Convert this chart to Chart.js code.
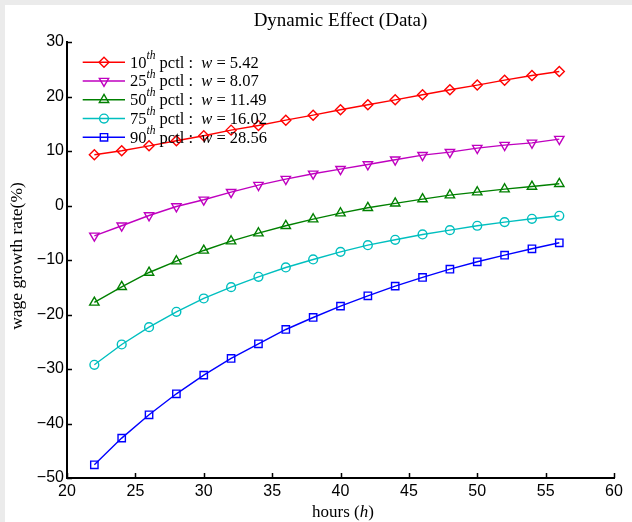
<!DOCTYPE html>
<html>
<head>
<meta charset="utf-8">
<script src="https://cdn.jsdelivr.net/npm/chart.js@4/dist/chart.umd.min.js"></script>
<style>
  html, body { margin: 0; padding: 0; background: #ebebeb; }
  #wrap { position: absolute; left: 5px; top: 5px; width: 627px; height: 517px; background: #fff; }
  canvas { display: block; }
</style>
</head>
<body>
<div id="wrap"><canvas id="growthChart" width="627" height="517"></canvas></div>
<script>
// hours worked, one point every two hours
const hours = [22, 24, 26, 28, 30, 32, 34, 36, 38, 40, 42, 44, 46, 48, 50, 52, 54, 56];

// wage growth rate (%) by wage percentile
const pctl10 = [9.30, 10.04, 10.95, 11.87, 12.79, 13.83, 14.68, 15.66, 16.58, 17.56, 18.48, 19.39, 20.31, 21.23, 22.09, 23.00, 23.86, 24.59];
const pctl25 = [-5.56, -3.72, -1.83, -0.18, 1.05, 2.45, 3.74, 4.84, 5.82, 6.67, 7.53, 8.39, 9.24, 9.79, 10.53, 11.08, 11.50, 12.18];
const pctl50 = [-17.79, -14.92, -12.29, -10.21, -8.25, -6.54, -5.07, -3.72, -2.50, -1.40, -0.42, 0.40, 1.17, 1.90, 2.45, 3.00, 3.49, 3.98];
const pctl75 = [-29.23, -25.50, -22.32, -19.50, -17.06, -14.98, -13.08, -11.37, -9.90, -8.50, -7.28, -6.29, -5.31, -4.52, -3.72, -3.05, -2.44, -1.89];
const pctl90 = [-47.58, -42.68, -38.40, -34.55, -31.12, -28.07, -25.38, -22.75, -20.55, -18.46, -16.57, -14.79, -13.20, -11.68, -10.33, -9.11, -7.94, -6.84];

const pctlNames = ['10', '25', '50', '75', '90'];
const wageLevels = ['5.42', '8.07', '11.49', '16.02', '28.56'];

const xTicks = [20, 25, 30, 35, 40, 45, 50, 55, 60];
const yTicks = [-50, -40, -30, -20, -10, 0, 10, 20, 30];

const SERIF = '"Liberation Serif", "DejaVu Serif", serif';
const SANS = '"Liberation Sans", Arial, sans-serif';

function series(vals, color, style, radius, rotation) {
    return {
        data: hours.map((h, i) => ({ x: h, y: vals[i] })),
        borderColor: color,
        borderWidth: 1.4,
        pointStyle: style,
        pointRadius: radius,
        pointRotation: rotation || 0,
        pointBorderColor: color,
        pointBackgroundColor: 'rgba(0,0,0,0)',
        pointBorderWidth: 1.4,
        tension: 0,
        fill: false
    };
}

const datasets = [
    series(pctl10, '#ff0000', 'rectRot', 5),
    series(pctl25, '#bf00bf', 'triangle', 5.4, 180),
    series(pctl50, '#008000', 'triangle', 5.4),
    series(pctl75, '#00bfbf', 'circle', 4.4),
    series(pctl90, '#0000ff', 'rect', 5.2)
];

// text pieces: [string, italic, superscript]
function drawRich(ctx, parts, x, y, size) {
    let cx = x;
    parts.forEach(p => {
        const fs = p[2] ? size * 0.7 : size;
        ctx.font = (p[1] ? 'italic ' : '') + fs + 'px ' + SERIF;
        const dy = p[2] ? -size * 0.45 : 0;
        ctx.fillText(p[0], cx, y + dy);
        cx += ctx.measureText(p[0]).width;
    });
    return cx;
}

function richWidth(ctx, parts, size) {
    let w = 0;
    parts.forEach(p => {
        const fs = p[2] ? size * 0.7 : size;
        ctx.font = (p[1] ? 'italic ' : '') + fs + 'px ' + SERIF;
        w += ctx.measureText(p[0]).width;
    });
    return w;
}

const decorations = {
    id: 'decorations',
    afterDraw(chart) {
        const ctx = chart.ctx;
        const area = chart.chartArea;
        const xs = chart.scales.x, ys = chart.scales.y;
        ctx.save();

        // inward tick marks
        ctx.strokeStyle = '#000';
        ctx.lineWidth = 1.5;
        ctx.beginPath();
        xTicks.forEach(v => {
            const px = Math.round(xs.getPixelForValue(v)) + 0.5;
            ctx.moveTo(px, area.bottom);
            ctx.lineTo(px, area.bottom - 5);
        });
        yTicks.forEach(v => {
            const py = Math.round(ys.getPixelForValue(v)) + 0.5;
            ctx.moveTo(area.left, py);
            ctx.lineTo(area.left + 5, py);
        });
        ctx.stroke();

        ctx.fillStyle = '#000';
        ctx.textBaseline = 'middle';

        // title
        ctx.textAlign = 'center';
        ctx.font = '19px ' + SERIF;
        ctx.fillText('Dynamic Effect (Data)', (area.left + area.right) / 2, 16);

        // x axis label
        ctx.textAlign = 'left';
        const xl = [['hours (', false, false], ['h', true, false], [')', false, false]];
        const xw = richWidth(ctx, xl, 17);
        drawRich(ctx, xl, 338 - xw / 2, 508, 17);

        // y axis label
        ctx.save();
        ctx.translate(12, 251);
        ctx.rotate(-Math.PI / 2);
        ctx.textAlign = 'center';
        ctx.font = '17.5px ' + SERIF;
        ctx.fillText('wage growth rate(%)', 0, 0);
        ctx.restore();

        // legend
        ctx.textAlign = 'left';
        datasets.forEach((ds, i) => {
            const ly = 57.3 + i * 18.75;
            ctx.strokeStyle = ds.borderColor;
            ctx.lineWidth = ds.borderWidth;
            ctx.beginPath();
            ctx.moveTo(77.7, ly);
            ctx.lineTo(120, ly);
            ctx.stroke();
            ctx.fillStyle = 'rgba(0,0,0,0)';
            Chart.helpers.drawPoint(ctx, {
                pointStyle: ds.pointStyle,
                rotation: ds.pointRotation,
                radius: ds.pointRadius,
                borderWidth: ds.pointBorderWidth
            }, 99, ly);
            ctx.fillStyle = '#000';
            drawRich(ctx, [
                [pctlNames[i], false, false],
                ['th', true, true],
                [' pctl :  ', false, false],
                ['w', true, false],
                [' = ' + wageLevels[i], false, false]
            ], 125, ly + 1, 16.5);
        });

        ctx.restore();
    }
};

const ctx = document.getElementById('growthChart').getContext('2d');
new Chart(ctx, {
    type: 'line',
    data: { datasets: datasets },
    options: {
        responsive: false,
        devicePixelRatio: 1,
        animation: false,
        layout: { padding: { top: 37, right: 18, left: 0, bottom: 0 } },
        plugins: { legend: { display: false }, tooltip: { enabled: false }, title: { display: false } },
        scales: {
            x: {
                type: 'linear',
                min: 20, max: 60,
                afterBuildTicks: s => { s.ticks = xTicks.map(v => ({ value: v })); },
                afterFit: s => { s.height = 44; },
                ticks: { color: '#000', font: { family: SANS, size: 16 }, padding: 4, maxRotation: 0 },
                grid: { drawOnChartArea: false, drawTicks: false },
                border: { color: '#000', width: 2 }
            },
            y: {
                type: 'linear',
                min: -50, max: 30,
                afterBuildTicks: s => { s.ticks = yTicks.map(v => ({ value: v })); },
                afterFit: s => { s.width = 62; },
                ticks: {
                    color: '#000', font: { family: SANS, size: 16 }, padding: 3,
                    callback: v => v < 0 ? '\u2212' + Math.abs(v) : String(v)
                },
                grid: { drawOnChartArea: false, drawTicks: false },
                border: { color: '#000', width: 2 }
            }
        }
    },
    plugins: [decorations]
});
</script>
</body>
</html>
